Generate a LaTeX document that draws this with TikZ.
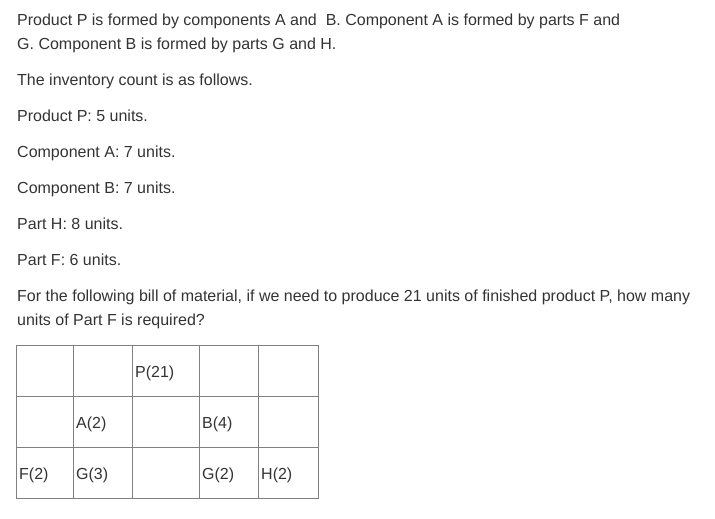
\documentclass[tikz,border=0pt]{standalone}
\usepackage{fontspec}
\setmainfont{Liberation Sans}
\usepackage{xcolor}
\usetikzlibrary{positioning}
\definecolor{txtgray}{HTML}{333333}
\definecolor{rulegray}{HTML}{808080}
\tikzset{
  line/.style={anchor=base west,inner sep=0pt,text=txtgray,font=\fontsize{16}{19}\selectfont},
  entry/.style={line},
}

\begin{document}
\begin{tikzpicture}[x=1pt,y=-1pt]
\useasboundingbox (0,0) rectangle (715,519);
% question text
\node[line] (L1) at (17,26)    {Product P is formed by components A and\ \ B. Component A is formed by parts F and};
\node[line] (L2) at (17,49.5)  {G. Component B is formed by parts G and H.};
\node[line] (L3) at (17,85.5)  {The inventory count is as follows.};
\node[line] (L4) at (17,121.5) {Product P: 5 units.};
\node[line] (L5) at (17,157.5) {Component A: 7 units.};
\node[line] (L6) at (17,193.5) {Component B: 7 units.};
\node[line] (L7) at (17,229.5) {Part H: 8 units.};
\node[line] (L8) at (17,265.5) {Part F: 6 units.};
\node[line] (L9) at (17,301.5) {For the following bill of material, if we need to produce 21 units of finished product P, how many};
\node[line] (L10) at (17,325.5) {units of Part F is required?};

% bill of material table
\foreach \x in {16.5,73.5,132.5,199.5,258.5,318.5}
  \draw[rulegray,line width=1] (\x,345.5) -- (\x,498);
\foreach \y in {345.5,396.5,447.5,498}
  \draw[rulegray,line width=1] (16,\y) -- (319,\y);

\node[entry] (P)  at (135,377)  {P(21)};
\node[entry] (A)  at (76,428)   {A(2)};
\node[entry] (B)  at (202,428)  {B(4)};
\node[entry] (F)  at (19,479)   {F(2)};
\node[entry] (GA) at (76,479)   {G(3)};
\node[entry] (GB) at (202,479)  {G(2)};
\node[entry] (H)  at (261,479)  {H(2)};

\end{tikzpicture}
\end{document}
